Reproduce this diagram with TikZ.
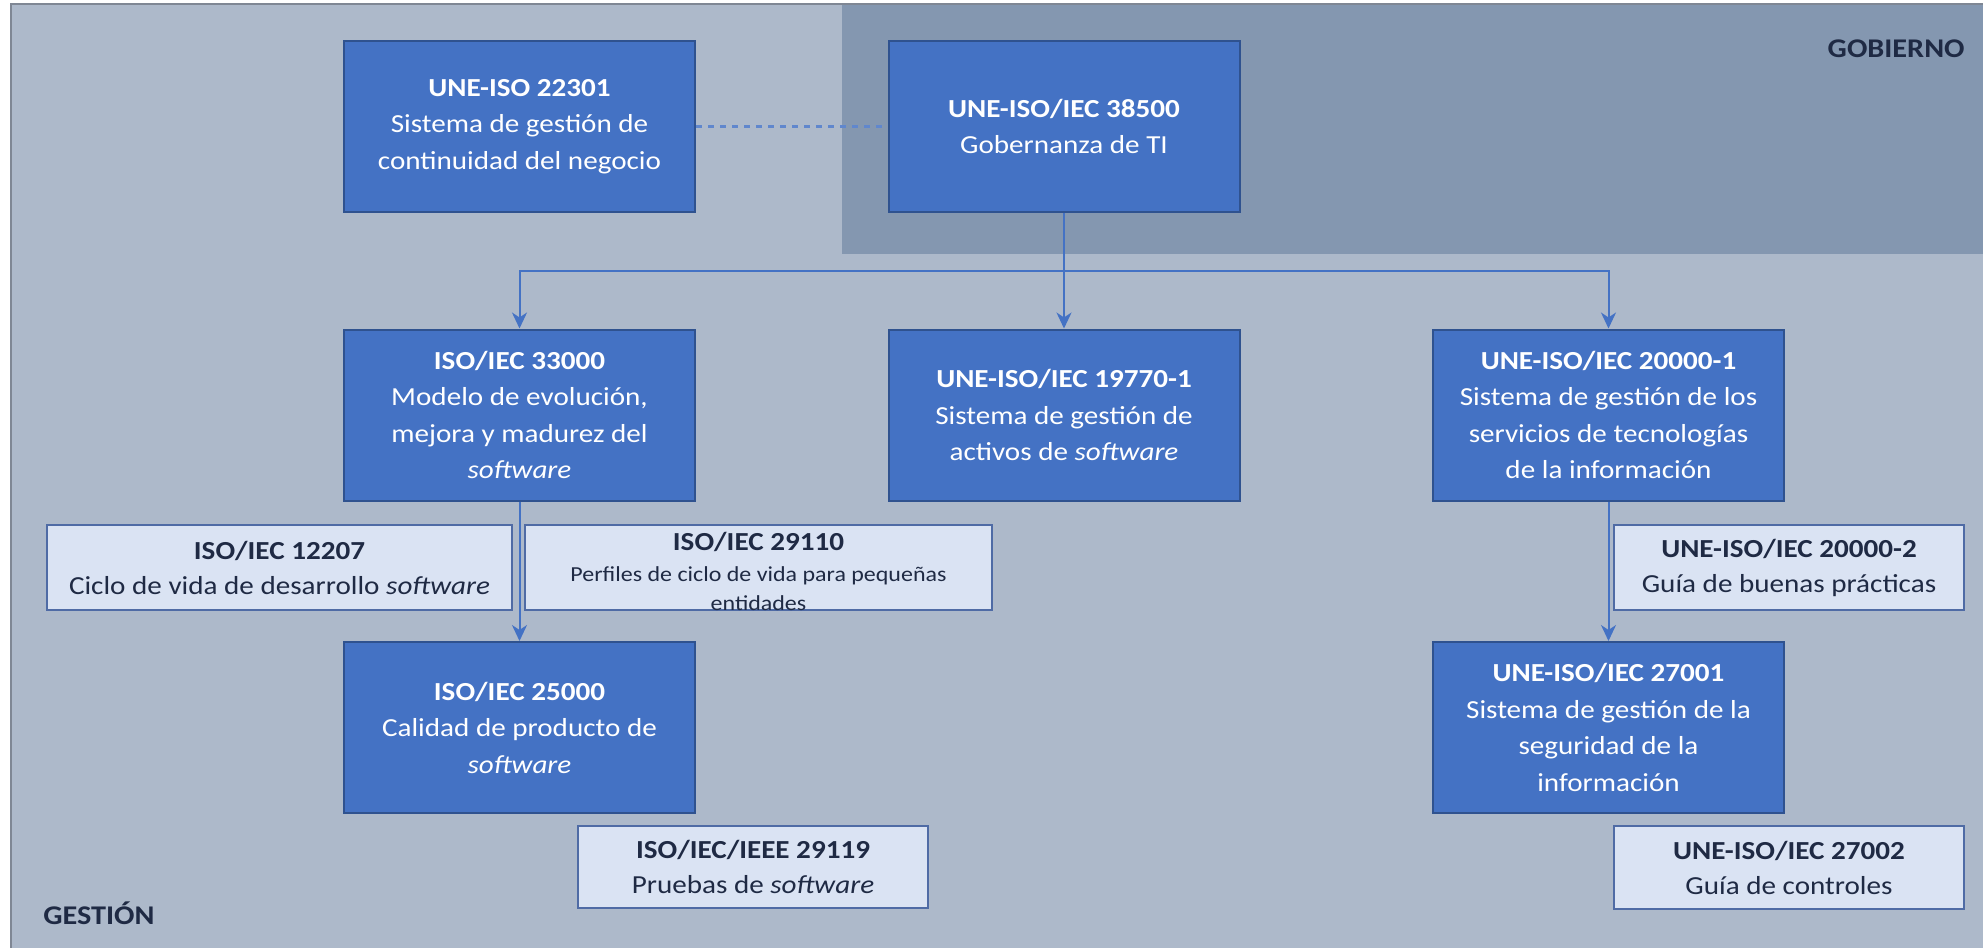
\documentclass[tikz,border=0pt]{standalone}
\usepackage{fontspec}
\setmainfont[FakeStretch=1.12]{Carlito}
\usetikzlibrary{arrows.meta}

\definecolor{gestion}{HTML}{ADB9CA}
\definecolor{gobierno}{HTML}{8497B0}
\definecolor{azul}{HTML}{4472C4}
\definecolor{azulborde}{HTML}{2F528F}
\definecolor{claro}{HTML}{DAE3F3}
\definecolor{claroborde}{HTML}{4F6BA5}
\definecolor{texto}{HTML}{1F2A44}
\definecolor{marco}{HTML}{7F8794}

\tikzset{
  darkbox/.style={draw=azulborde, fill=azul, line width=1pt, text=white, align=center,
    minimum width=175.5pt, minimum height=85.5pt, inner sep=2pt, font=\fontsize{13}{18.25}\selectfont},
  lightbox/.style={draw=claroborde, fill=claro, line width=1pt, text=texto, align=center,
    minimum height=42.5pt, inner sep=1pt, font=\fontsize{13}{17.5}\selectfont},
  link/.style={draw=azul, line width=1pt},
  arrow/.style={link, -{Stealth[length=8pt, width=7.5pt, inset=2.5pt]}},
  dashlink/.style={draw=azul!85!white, line width=1.5pt, dash pattern=on 3pt off 3pt},
  region/.style={inner sep=0pt, text=texto, font=\fontsize{13.5}{16}\selectfont\bfseries}
}

\begin{document}
\begin{tikzpicture}[x=0.5pt, y=-0.5pt]
        \useasboundingbox (0,0) rectangle (1983,948);
        \fill[white] (0,0) rectangle (1983,948);
        \fill[gestion] (11,4) rectangle (1983,948);
        \fill[gobierno] (842,4) rectangle (1983,254);
        \draw[marco, line width=1pt] (11,948) -- (11,4) -- (1983,4);

        \node[region, anchor=east] (gob) at (1965,49) {GOBIERNO};
        \node[region, anchor=west] (ges) at (43,913) {GESTIÓN};

        \node[darkbox] (n22301) at (519.5,126.5) {\textbf{UNE-ISO 22301}\\Sistema de gestión de\\continuidad del negocio};
        \node[darkbox] (n38500) at (1064,126.5) {\textbf{UNE-ISO/IEC 38500}\\Gobernanza de TI};
        \node[darkbox] (n33000) at (519.5,415) {\textbf{ISO/IEC 33000}\\Modelo de evolución,\\mejora y madurez del\\\textit{software}};
        \node[darkbox] (n19770) at (1064,415) {\textbf{UNE-ISO/IEC 19770-1}\\Sistema de gestión de\\activos de \textit{software}};
        \node[darkbox] (n20000) at (1608.5,415) {\textbf{UNE-ISO/IEC 20000-1}\\Sistema de gestión de los\\servicios de tecnologías\\de la información};
        \node[darkbox] (n25000) at (519.5,727.5) {\textbf{ISO/IEC 25000}\\Calidad de producto de\\\textit{software}};
        \node[darkbox] (n27001) at (1608.5,727.5) {\textbf{UNE-ISO/IEC 27001}\\Sistema de gestión de la\\seguridad de la\\información};

        \node[lightbox, minimum width=232.5pt] (n12207) at (279.5,567.5) {\textbf{ISO/IEC 12207}\\Ciclo de vida de desarrollo \textit{software}};
        \node[lightbox, minimum width=233.5pt] (n29110) at (758.5,567.5) {};
        \node[text=texto, align=center, font=\fontsize{13}{17.5}\selectfont] (t29110) at ([yshift=-1.75pt]n29110.center)
          {\textbf{ISO/IEC 29110}\\[-2pt]{\fontsize{10.7}{15}\selectfont Perfiles de ciclo de vida para pequeñas}\\[-3pt]{\fontsize{10.7}{15}\selectfont entidades}};
        \node[lightbox, minimum width=175pt, minimum height=41pt] (n29119) at (753,867) {\textbf{ISO/IEC/IEEE 29119}\\Pruebas de \textit{software}};
        \node[lightbox, minimum width=175pt] (n20002) at (1789,567.5) {\textbf{UNE-ISO/IEC 20000-2}\\Guía de buenas prácticas};
        \node[lightbox, minimum width=175pt, minimum height=41.5pt] (n27002) at (1789,867.5) {\textbf{UNE-ISO/IEC 27002}\\Guía de controles};

        \coordinate (bus) at (1064,271);
        \draw[dashlink] (n22301.east) -- (n38500.west);
        \draw[link] (n38500.south) -- (bus);
        \draw[arrow] (bus) -| (n33000.north);
        \draw[arrow] (bus) -- (n19770.north);
        \draw[arrow] (bus) -| (n20000.north);
        \draw[arrow] (n33000.south) -- (n25000.north);
        \draw[arrow] (n20000.south) -- (n27001.north);
    \end{tikzpicture}
\end{document}
